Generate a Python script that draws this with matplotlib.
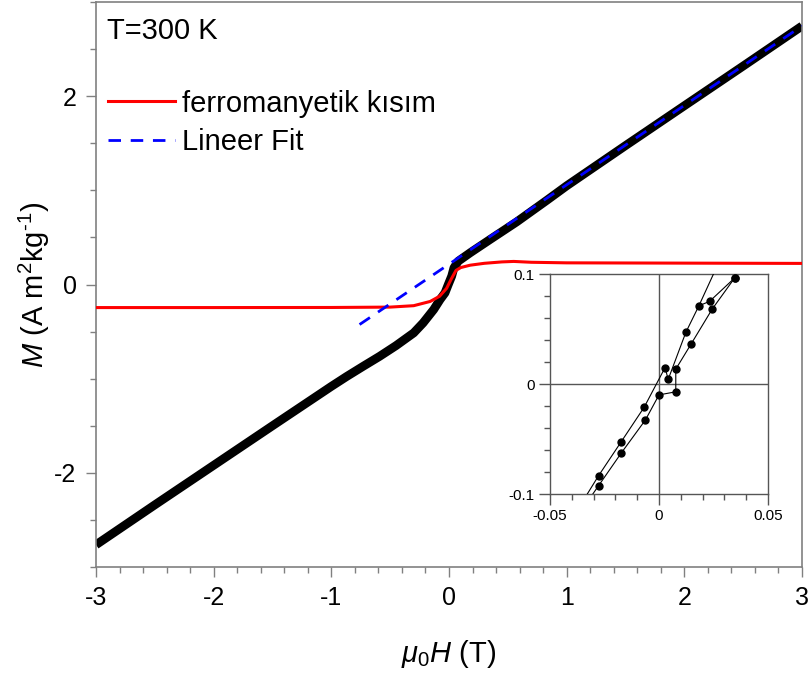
import matplotlib
matplotlib.use("Agg")
import matplotlib.pyplot as plt
from matplotlib.ticker import MultipleLocator

plt.rcParams['font.family'] = ['Liberation Sans', 'DejaVu Sans']
plt.rcParams['mathtext.fontset'] = 'custom'
plt.rcParams['mathtext.rm'] = 'Liberation Sans'
plt.rcParams['mathtext.it'] = 'Liberation Sans:italic'
plt.rcParams['axes.unicode_minus'] = False

# toplam M(H) egrisi (siyah)
H_total = [-3.0, -2.5, -2.0, -1.5, -1.0, -0.87, -0.73, -0.59, -0.45, -0.30, -0.22,
           -0.13, -0.076, -0.034, -0.006, 0.023, 0.042, 0.079, 0.18, 0.35, 0.575,
           0.83, 1.0, 1.5, 2.0, 2.5, 3.0]
M_total = [-2.764, -2.34, -1.92, -1.50, -1.082, -0.977, -0.869, -0.763, -0.649, -0.514, -0.408,
           -0.266, -0.160, -0.089, 0.0, 0.089, 0.177, 0.248, 0.337, 0.479, 0.665,
           0.893, 1.048, 1.475, 1.898, 2.32, 2.745]

# ferromanyetik kisim (kirmizi)
H_ferro = [-3.0, -2.0, -1.0, -0.5, -0.3, -0.16, -0.08, -0.02, 0.02, 0.06, 0.1,
           0.18, 0.3, 0.45, 0.55, 0.7, 1.0, 2.0, 3.0]
M_ferro = [-0.245, -0.245, -0.244, -0.240, -0.225, -0.18, -0.125, -0.04, 0.06, 0.15, 0.18,
           0.205, 0.225, 0.24, 0.245, 0.236, 0.23, 0.227, 0.224]

# lineer fit
H_fit = [-0.76, 3.0]
M_fit = [-0.425, 2.745]

# inset: dusuk alan histerezis
H_up = [-0.032, -0.0277, -0.0174, -0.0062, 0.0, 0.0077, 0.0077, 0.0148, 0.0244, 0.0347]
M_up = [-0.1047, -0.0924, -0.0630, -0.0326, -0.0099, -0.0071, 0.0135, 0.0366, 0.0681, 0.0964]
H_down = [0.0347, 0.0232, 0.0183, 0.0123, 0.0042, 0.0028, -0.0068, -0.0174, -0.0277, -0.036]
M_down = [0.0964, 0.0751, 0.0711, 0.0469, 0.0041, 0.0150, -0.0211, -0.0527, -0.0833, -0.110]
H_line = [0.0183, 0.028]
M_line = [0.0711, 0.113]

W, Hh = 810, 682
fig = plt.figure(figsize=(W / 100, Hh / 100), dpi=100)
ax = fig.add_axes([96 / W, 1 - 567 / Hh, 706 / W, 565 / Hh])

ax.plot(H_total, M_total, color='black', lw=6.3, solid_capstyle='butt',
        solid_joinstyle='round', zorder=2)
ax.plot(H_ferro, M_ferro, color='#ff0000', lw=2.2, label='ferromanyetik kısım', zorder=3)
ax.plot(H_fit, M_fit, color='#0000ff', lw=2, ls=(0, (4.5, 3.5)), label='Lineer Fit', zorder=4)

ax.set_xlim(-3, 3)
ax.set_ylim(-3, 3)
ax.xaxis.set_major_locator(MultipleLocator(1))
ax.xaxis.set_minor_locator(MultipleLocator(0.2))
ax.yaxis.set_major_locator(MultipleLocator(2))
ax.yaxis.set_minor_locator(MultipleLocator(0.5))
ax.tick_params(which='major', length=7, width=1, color='#808080', labelsize=18, pad=7)
ax.tick_params(which='minor', length=4, width=1, color='#808080')
for s in ax.spines.values():
    s.set_color('#808080')
    s.set_linewidth(1.2)

ax.set_xlabel(r'$\mu_{\mathit{0}}H$ (T)', fontsize=21, labelpad=20)
ax.set_ylabel(r'$M$ (A m$^2$kg$^{\text{-1}}$)', fontsize=21, labelpad=2)

ax.text(0.0156, 0.949, 'T=300 K', transform=ax.transAxes, fontsize=21, va='center', ha='left')
ax.legend(loc='upper left', bbox_to_anchor=(0.017, 0.845), frameon=False, fontsize=21,
          handlelength=2.3, handletextpad=0.25, labelspacing=0.37, borderpad=0, borderaxespad=0)

# inset
ins = fig.add_axes([550 / W, 1 - 494 / Hh, 218 / W, 220 / Hh])
ins.axhline(0, color='#555555', lw=1, zorder=1)
ins.axvline(0, color='#555555', lw=1, zorder=1)
ins.plot(H_up, M_up, color='black', lw=0.8, marker='o', ms=5, zorder=3)
ins.plot(H_down, M_down, color='black', lw=0.8, marker='o', ms=5, zorder=3)
ins.plot(H_line, M_line, color='black', lw=0.8, zorder=3)
ins.set_xlim(-0.05, 0.05)
ins.set_ylim(-0.1, 0.1)
ins.set_xticks([-0.05, 0, 0.05])
ins.set_xticklabels(['-0.05', '0', '0.05'])
ins.set_yticks([-0.1, 0, 0.1])
ins.set_yticklabels(['-0.1', '0', '0.1'])
ins.xaxis.set_minor_locator(MultipleLocator(0.01))
ins.yaxis.set_minor_locator(MultipleLocator(0.02))
ins.tick_params(which='major', length=8, width=1, color='#555555', labelsize=11, pad=3)
ins.tick_params(which='minor', length=4.5, width=1, color='#555555')
for s in ins.spines.values():
    s.set_color('#555555')
    s.set_linewidth(1)

fig.savefig('out.png', dpi=100)
